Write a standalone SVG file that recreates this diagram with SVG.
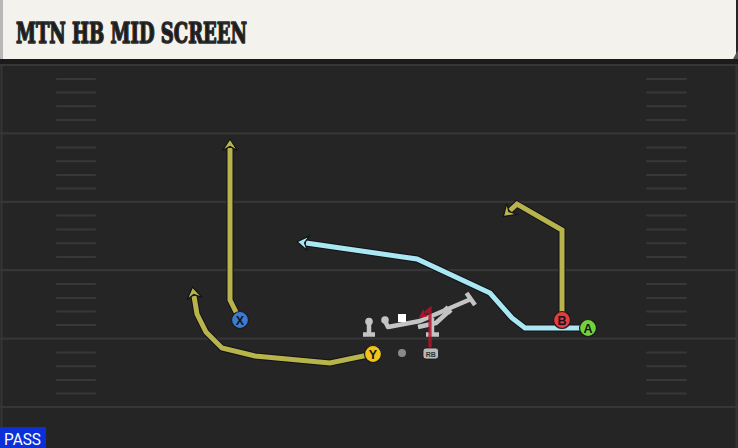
<svg xmlns="http://www.w3.org/2000/svg" width="738" height="448" viewBox="0 0 738 448">
<style>
.yl{stroke:#363636;stroke-width:2.2}
.hm{stroke:#383838;stroke-width:2;stroke-linecap:round}
.ol{fill:none;stroke:#121218;stroke-width:7;stroke-linejoin:miter;stroke-linecap:butt}
.ry{fill:none;stroke:#b8b44c;stroke-width:5;stroke-linejoin:miter}
.rb{fill:none;stroke:#a9e7f3;stroke-width:5;stroke-linejoin:miter}
.hy{fill:#b8b44c;stroke:#121218;stroke-width:1.2;stroke-linejoin:miter}
.hb{fill:#a9e7f3;stroke:#121218;stroke-width:1.2;stroke-linejoin:miter}
.pl{stroke:#1a1a1a;stroke-width:1.2}
.lt{font-family:"Liberation Sans",Arial,sans-serif;font-weight:bold;font-size:12.5px;fill:#151515;text-anchor:middle}
.gr{fill:none;stroke:#c4c4c4;stroke-width:4.5;stroke-linejoin:round}
</style>
<g id="field">
<rect x="0" y="0" width="738" height="448" fill="#252525"/>
<rect x="0" y="59" width="738" height="6" fill="#1b1b1b"/>
<line x1="1.5" y1="65" x2="1.5" y2="448" stroke="#363636" stroke-width="2"/>
<line x1="736.5" y1="65" x2="736.5" y2="448" stroke="#363636" stroke-width="2"/>
<line class="yl" x1="0" y1="65" x2="738" y2="65"/>
<line class="yl" x1="0" y1="133.4" x2="738" y2="133.4"/>
<line class="yl" x1="0" y1="201.8" x2="738" y2="201.8"/>
<line class="yl" x1="0" y1="270.2" x2="738" y2="270.2"/>
<line class="yl" x1="0" y1="338.6" x2="738" y2="338.6"/>
<line class="yl" x1="0" y1="407" x2="738" y2="407"/>
<g id="hashes">
<path class="hm" d="M57,79H95M57,92.5H95M57,106.2H95M57,120H95M57,147.5H95M57,161.3H95M57,175H95M57,188.5H95M57,215.5H95M57,229.5H95M57,243.3H95M57,257H95M57,284H95M57,298H95M57,311.5H95M57,325H95M57,352.5H95M57,366.2H95M57,380H95M57,393.6H95"/>
<path class="hm" d="M647,79H686M647,92.5H686M647,106.2H686M647,120H686M647,147.5H686M647,161.3H686M647,175H686M647,188.5H686M647,215.5H686M647,229.5H686M647,243.3H686M647,257H686M647,284H686M647,298H686M647,311.5H686M647,325H686M647,352.5H686M647,366.2H686M647,380H686M647,393.6H686"/>
</g>
</g>
<g id="header">
<rect x="0" y="0" width="736" height="59" fill="#f4f2ec"/>
<rect x="0" y="0" width="3" height="59" fill="#b8b8b6"/>
<path d="M733,59 L738,50 L738,59 Z" fill="#555"/>
<text x="16" y="42.5" font-family="'DejaVu Serif',serif" font-weight="bold" font-size="27" fill="#1c1c1c" stroke="#2a2a2a" stroke-width="1.6" stroke-linejoin="round" textLength="231" lengthAdjust="spacingAndGlyphs">MTN HB MID SCREEN</text>
</g>
<g id="connectors">
<path class="ol" d="M240,320 L230,300 L230,148"/>
<path class="ry" d="M240,320 L230,300 L230,148"/>
<polygon class="hy" points="230,139 222.5,150.5 230,146.5 237.5,150.5"/>
<path class="ol" d="M373,354 L330,363 L255,356 L222,348 L206,332 L197,314 L194,296"/>
<path class="ry" d="M373,354 L330,363 L255,356 L222,348 L206,332 L197,314 L194,296"/>
<polygon class="hy" points="192.5,287.1 201.8,297.2 193.75,294.5 187,299.7"/>
<path class="ol" d="M562,320 L562,230 L517,204 L510,210.5"/>
<path class="ry" d="M562,320 L562,230 L517,204 L510,210.5"/>
<polygon class="hy" points="503.4,216.6 516.9,214.3 508.9,211.5 506.7,203.3"/>
<path class="ol" d="M588,328 L525,328 L512,318 L490,293 L417,259 L306,243"/>
<path class="rb" d="M588,328 L525,328 L512,318 L490,293 L417,259 L306,243"/>
<polygon class="hb" points="297.1,241.7 309.5,235.9 304.5,242.8 307.4,250.8"/>
</g>
<g id="line">
<circle cx="369" cy="321.5" r="3.8" fill="#c4c4c4"/>
<path class="gr" d="M369,322 V334 M363,334.5 H375" stroke-width="3.2"/>
<circle cx="385" cy="320" r="3.8" fill="#c4c4c4"/>
<path class="gr" d="M385,321 L388,327 L420,321 L471,299"/>
<path class="gr" d="M466.5,293 L475,305" stroke-width="3.8"/>
<path class="gr" d="M418,327 L436,323 L448,312"/>
<path class="gr" d="M445,307 L451,313" stroke-width="3"/>
<path class="gr" d="M432,318 V334 M426,334.5 H439" stroke-width="3.2"/>
<rect x="398" y="314" width="8" height="8" fill="#ffffff"/>
<circle cx="402" cy="353" r="4" fill="#8a8a8a"/>
</g>
<g id="RB">
<path d="M430,349 L430,309 L425,313" fill="none" stroke="#b5142c" stroke-width="3.2" opacity="0.85"/>
<polygon points="418.5,318 427.5,316.5 424.5,313.5 423.5,309" fill="#b5142c" opacity="0.9"/>
<rect x="423" y="348" width="15.5" height="11" rx="3" fill="#b9b9b9" stroke="#1a1a1a" stroke-width="0.8"/>
<text x="430.7" y="356.8" font-family="'Liberation Sans',Arial,sans-serif" font-weight="bold" font-size="7" fill="#333" text-anchor="middle">RB</text>
</g>
<g id="X">
<circle class="pl" cx="240" cy="320" r="8.5" fill="#3b7bd6"/>
<text class="lt" x="240" y="324.5">X</text>
</g>
<g id="Y">
<circle class="pl" cx="373" cy="354" r="8.5" fill="#f0c41c"/>
<text class="lt" x="373" y="358.5">Y</text>
</g>
<g id="B">
<circle class="pl" cx="562" cy="320" r="8.5" fill="#e43b41"/>
<text class="lt" x="562" y="324.5">B</text>
</g>
<g id="A">
<circle class="pl" cx="588" cy="328" r="8.5" fill="#72d23c"/>
<text class="lt" x="588" y="332.5">A</text>
</g>
<g id="pass">
<rect x="0" y="427" width="46" height="21" fill="#0b2fd8"/>
<text x="4" y="445" font-family="Roboto,'Liberation Sans',sans-serif" font-size="16" fill="#ffffff" textLength="37" lengthAdjust="spacingAndGlyphs">PASS</text>
</g>
</svg>
